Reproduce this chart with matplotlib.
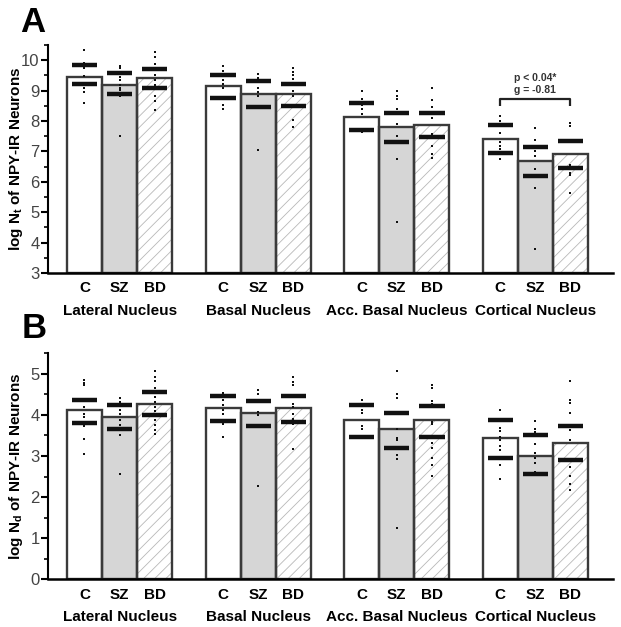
import numpy as np
import matplotlib.pyplot as plt
from matplotlib.transforms import blended_transform_factory

plt.rcParams['font.family'] = ['Liberation Sans', 'DejaVu Sans']
plt.rcParams['mathtext.fontset'] = 'custom'
plt.rcParams['mathtext.rm'] = 'Liberation Sans'
plt.rcParams['mathtext.bf'] = 'Liberation Sans:bold'
plt.rcParams['hatch.linewidth'] = 0.6

nuclei = ['Lateral Nucleus', 'Basal Nucleus', 'Acc. Basal Nucleus', 'Cortical Nucleus']
groups = ['C', 'SZ', 'BD']

# panel A: log Nt
a_means = [[9.45, 9.2, 9.4], [9.15, 8.9, 8.88], [8.14, 7.81, 7.88], [7.4, 6.68, 6.91]]
a_upper = [[9.84, 9.58, 9.70], [9.51, 9.32, 9.21], [8.6, 8.27, 8.27], [7.86, 7.14, 7.33]]
a_lower = [[9.23, 8.88, 9.07], [8.76, 8.47, 8.49], [7.72, 7.31, 7.48], [6.95, 6.19, 6.46]]
a_pts = [
    [[10.34, 9.92, 9.81, 9.73, 9.48, 9.2, 9.07, 8.96, 8.58],
     [9.80, 9.73, 9.58, 9.45, 9.34, 9.2, 9.09, 9.01, 8.87, 8.82, 7.5],
     [10.27, 10.09, 9.89, 9.73, 9.53, 9.34, 9.2, 9.09, 8.82, 8.66, 8.36]],
    [[9.81, 9.64, 9.53, 9.34, 9.23, 9.09, 8.77, 8.52, 8.41],
     [9.56, 9.43, 9.32, 9.07, 8.96, 8.82, 7.04],
     [9.76, 9.62, 9.51, 9.37, 9.2, 8.99, 8.82, 8.5, 8.03, 7.81]],
    [[8.98, 8.74, 8.54, 8.41, 8.23, 7.75, 7.64],
     [8.99, 8.82, 8.72, 8.38, 7.89, 7.51, 7.31, 6.74, 4.69],
     [9.07, 8.69, 8.45, 8.27, 8.1, 7.56, 7.43, 7.18, 6.9, 6.79]],
    [[8.17, 8.0, 7.86, 7.59, 7.31, 7.18, 7.07, 6.93, 6.74],
     [7.78, 7.37, 7.18, 7.01, 6.84, 6.41, 6.19, 5.8, 3.79],
     [7.92, 7.84, 7.34, 6.55, 6.44, 6.30, 6.22, 5.64]],
]

# panel B: log Nd
b_means = [[4.13, 3.95, 4.27], [4.17, 4.05, 4.16], [3.88, 3.65, 3.87], [3.45, 3.01, 3.32]]
b_upper = [[4.37, 4.23, 4.55], [4.47, 4.35, 4.45], [4.25, 4.05, 4.21], [3.88, 3.5, 3.73]]
b_lower = [[3.80, 3.66, 3.99], [3.85, 3.72, 3.83], [3.46, 3.2, 3.46], [2.95, 2.56, 2.9]]
b_pts = [
    [[4.84, 4.77, 4.72, 4.35, 4.19, 4.03, 3.95, 3.80, 3.74, 3.41, 3.06],
     [4.42, 4.31, 4.23, 4.11, 4.03, 3.87, 3.75, 3.5, 2.57],
     [5.06, 4.92, 4.82, 4.66, 4.54, 4.43, 4.31, 4.19, 4.09, 4.0, 3.87, 3.75, 3.64, 3.53]],
    [[4.54, 4.47, 4.37, 4.23, 4.11, 4.03, 3.87, 3.77, 3.46],
     [4.61, 4.51, 4.34, 4.07, 3.99, 2.27],
     [4.92, 4.80, 4.72, 4.46, 4.27, 4.19, 4.03, 3.91, 3.83, 3.77, 3.16]],
    [[4.37, 4.27, 4.11, 4.04, 3.74, 3.66, 3.48],
     [5.08, 4.51, 4.42, 4.05, 3.66, 3.44, 3.38, 3.2, 3.02, 2.92, 1.24],
     [4.72, 4.66, 4.35, 4.27, 4.19, 3.83, 3.79, 3.46, 3.32, 3.19, 2.94, 2.77, 2.51]],
    [[4.13, 3.88, 3.69, 3.6, 3.46, 3.38, 3.24, 3.14, 2.96, 2.79, 2.45],
     [3.85, 3.66, 3.58, 3.5, 3.3, 3.07, 2.94, 2.83, 2.61, 2.55],
     [4.82, 4.37, 4.29, 4.05, 3.75, 3.64, 3.38, 2.91, 2.73, 2.51, 2.33, 2.18]],
]

fills = ['white', '#d6d6d6', 'white']
edge = '#3a3a3a'
spacing = 3.95


def draw_panel(ax, means, upper, lower, pts, ylim, yticks, ylabel):
    pos = []
    for g in range(4):
        for i in range(3):
            x = g * spacing + i
            pos.append(x)
            if i == 2:
                ax.bar(x, means[g][i] - ylim[0], bottom=ylim[0], width=1, color='white',
                       edgecolor='#b8b8b8', linewidth=0, hatch='///', zorder=1)
            else:
                ax.bar(x, means[g][i] - ylim[0], bottom=ylim[0], width=1, color=fills[i],
                       linewidth=0, zorder=1)
            ax.bar(x, means[g][i] - ylim[0], bottom=ylim[0], width=1, fill=False,
                   edgecolor=edge, linewidth=1.7, zorder=2)
            ax.hlines([upper[g][i], lower[g][i]], x - 0.36, x + 0.36, color='#111111',
                      linewidth=3.2, zorder=3)
            ax.plot([x] * len(pts[g][i]), pts[g][i], 's', color='#111111',
                    markersize=2.1, markeredgewidth=0, zorder=4)
    ax.set_xlim(-1.04, 3 * spacing + 2 + 1.21)
    ax.set_ylim(*ylim)
    ax.set_yticks(yticks)
    ax.set_yticks(np.arange(ylim[0], ylim[1] + 0.01, 0.5), minor=True)
    ax.tick_params(axis='y', which='major', length=5, width=1.5, labelsize=12,
                   labelcolor='#444444', pad=1)
    ax.tick_params(axis='y', which='minor', length=3, width=1.2)
    ax.set_xticks(pos)
    ax.set_xticklabels(groups * 4, fontweight='bold', fontsize=11)
    ax.tick_params(axis='x', length=0, pad=6)
    for s in ['top', 'right']:
        ax.spines[s].set_visible(False)
    ax.spines['left'].set_linewidth(1.5)
    ax.spines['bottom'].set_linewidth(1.8)
    tr = blended_transform_factory(ax.transData, ax.transAxes)
    for g in range(4):
        ax.text(g * spacing + 1, -0.165, nuclei[g], transform=tr, ha='center', va='center',
                fontsize=11, fontweight='bold')
    ax.set_ylabel(ylabel, fontsize=11, fontweight='bold')
    ax.yaxis.set_label_coords(-0.04, 0.5)
    return pos


fig = plt.figure(figsize=(6.21, 6.27), dpi=100)
axA = fig.add_axes([0.0773, 0.5646, 0.9097, 0.3636])
axB = fig.add_axes([0.0773, 0.0761, 0.9097, 0.3604])

posA = draw_panel(axA, a_means, a_upper, a_lower, a_pts, (3, 10.5), range(3, 11),
                  r'log N$_{\mathbf{t}}$ of NPY-IR Neurons')
posB = draw_panel(axB, b_means, b_upper, b_lower, b_pts, (0, 5.5), range(0, 6),
                  r'log N$_{\mathbf{d}}$ of NPY-IR Neurons')

# significance bracket, cortical C vs BD
x0, x1 = posA[9], posA[11]
axA.plot([x0, x0, x1, x1], [8.5, 8.74, 8.74, 8.5], color='#222222', linewidth=1.6,
         solid_capstyle='butt', zorder=5)
axA.text((x0 + x1) / 2, 9.41, 'p < 0.04*', ha='center', va='center', fontsize=7.5,
         fontweight='bold', color='#333333')
axA.text((x0 + x1) / 2, 9.01, 'g = -0.81', ha='center', va='center', fontsize=7.5,
         fontweight='bold', color='#333333')

fig.text(0.032, 0.949, 'A', fontsize=25, fontweight='bold', ha='left', va='baseline')
fig.text(0.035, 0.461, 'B', fontsize=25, fontweight='bold', ha='left', va='baseline')

fig.savefig('out.png', dpi=100)
